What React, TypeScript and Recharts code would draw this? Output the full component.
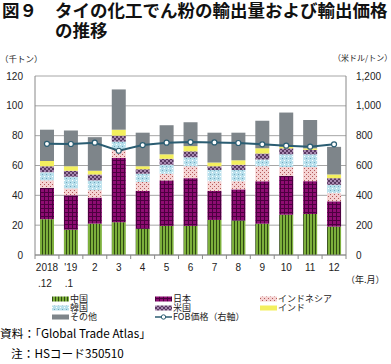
import { ComposedChart, Bar, Line, XAxis, YAxis, CartesianGrid } from 'recharts'

const months = ['2018\n.12', "'19\n.1", '2', '3', '4', '5', '6', '7', '8', '9', '10', '11', '12']
const china = [24, 17, 21, 22, 17.5, 19.5, 19.5, 23.5, 23, 21, 27, 27.5, 19]
const japan = [21, 23, 17.5, 43, 25.5, 30.5, 32, 19.5, 21, 28.5, 26, 22, 17]
const indonesia = [5, 4.5, 5, 6, 6, 4.5, 8, 6.5, 5.5, 10, 6, 9.5, 5.5]
const korea = [5.5, 8, 6.5, 5, 5.5, 6, 6, 7.5, 7.5, 4.5, 8.5, 8.5, 5.5]
const usa = [4, 4, 4, 4, 3, 4, 4, 2.5, 3.5, 4, 4, 3, 4.5]
const india = [3.5, 3, 2.5, 4, 2, 3, 3.5, 2.5, 3, 3.5, 1, 1, 2.5]
const other = [21, 24, 22.5, 27, 22.5, 19.5, 16, 20, 18.5, 18.5, 23, 19, 18.5]
const fob = [745, 744, 753, 699, 737, 753, 757, 755, 751, 742, 733, 726, 742]

const leftTicks = [0, 20, 40, 60, 80, 100, 120]
const rightTicks = [0, 200, 400, 600, 800, 1000, 1200]

const data = months.map((m, i) => ({
  m,
  china: china[i],
  japan: japan[i],
  indonesia: indonesia[i],
  korea: korea[i],
  usa: usa[i],
  india: india[i],
  other: other[i],
  fob: fob[i],
}))

const NUM_FONT = '"Liberation Sans", Arial, sans-serif'
const JP_FONT = '"Noto Sans CJK JP", "Noto Sans", sans-serif'

const PLOT_LEFT = 35
const PLOT_RIGHT = 346
const BAND = (PLOT_RIGHT - PLOT_LEFT) / months.length

const LINE_COLOR = '#2b5d72'

function Patterns() {
  return (
    <defs>
      <pattern id="p-china" width="3" height="4" patternUnits="userSpaceOnUse">
        <rect width="3" height="4" fill="#7db03c" />
        <rect x="0" width="1" height="4" fill="#2f4a12" />
      </pattern>
      <pattern id="p-japan" width="4" height="4" patternUnits="userSpaceOnUse">
        <rect width="4" height="4" fill="#8e0c72" />
        <rect x="0" y="0" width="4" height="1" fill="#4c0040" />
        <rect x="0" y="0" width="1" height="4" fill="#4c0040" />
      </pattern>
      <pattern id="p-indonesia" width="4" height="4" patternUnits="userSpaceOnUse">
        <rect width="4" height="4" fill="#f5d3d3" />
        <rect x="0" y="0" width="1" height="1" fill="#b35a5a" />
        <rect x="2" y="2" width="1" height="1" fill="#b35a5a" />
      </pattern>
      <pattern id="p-korea" width="4" height="4" patternUnits="userSpaceOnUse">
        <rect width="4" height="4" fill="#b9e0ec" />
        <rect x="0" y="0" width="1" height="1" fill="#ffffff" />
        <rect x="2" y="2" width="1" height="1" fill="#6fa6bd" />
      </pattern>
      <pattern id="p-usa" width="4" height="4" patternUnits="userSpaceOnUse">
        <rect width="4" height="4" fill="#a888b0" />
        <rect x="0" y="0" width="2" height="2" fill="#5a3a62" />
        <rect x="2" y="2" width="2" height="2" fill="#5a3a62" />
      </pattern>
    </defs>
  )
}

function MonthTick(props: any) {
  const { x, y, payload, index } = props
  const lines = String(payload.value).split('\n')
  const axisY = y - 8
  return (
    <g>
      <line x1={x - BAND / 2} x2={x - BAND / 2} y1={axisY} y2={axisY + 4} stroke="#888" />
      {index === months.length - 1 && (
        <line x1={x + BAND / 2} x2={x + BAND / 2} y1={axisY} y2={axisY + 4} stroke="#888" />
      )}
      {lines.map((t, i) => (
        <text
          key={i}
          x={lines.length > 1 && i === 1 ? x - 2 : x}
          y={axisY + 16 + i * 16}
          textAnchor="middle"
          fontSize={10}
          fontFamily={NUM_FONT}
          fill="#222"
        >
          {t}
        </text>
      ))}
    </g>
  )
}

const legendItems = [
  { name: '中国', fill: 'url(#p-china)', col: 0, row: 0 },
  { name: '日本', fill: 'url(#p-japan)', col: 1, row: 0 },
  { name: 'インドネシア', fill: 'url(#p-indonesia)', col: 2, row: 0 },
  { name: '韓国', fill: 'url(#p-korea)', col: 0, row: 1 },
  { name: '米国', fill: 'url(#p-usa)', col: 1, row: 1 },
  { name: 'インド', fill: '#f3ef5e', col: 2, row: 1 },
  { name: 'その他', fill: '#7e858a', col: 0, row: 2 },
  { name: 'FOB価格（右軸）', fill: 'line', col: 1, row: 2 },
]

const colX = [52, 155, 260]
const rowY = [299, 308, 317]

function LegendBlock() {
  return (
    <>
      {legendItems.map((it) => (
        <div
          key={it.name}
          style={{
            position: 'absolute',
            left: colX[it.col],
            top: rowY[it.row] - 5,
            height: 10,
            display: 'flex',
            alignItems: 'center',
            fontFamily: JP_FONT,
            fontSize: 9,
            lineHeight: '10px',
            color: '#222',
            whiteSpace: 'nowrap',
          }}
        >
          <svg width={17} height={10} style={{ marginRight: 1 }}>
            {it.fill === 'line' ? (
              <g>
                <line x1={0} x2={17} y1={5} y2={5} stroke={LINE_COLOR} strokeWidth={1.5} />
                <circle cx={8.5} cy={5} r={2.2} fill="#fff" stroke={LINE_COLOR} strokeWidth={1} />
              </g>
            ) : (
              <rect x={0} y={2.5} width={17} height={5} fill={it.fill} />
            )}
          </svg>
          {it.name}
        </div>
      ))}
    </>
  )
}

export default function App() {
  return (
    <div style={{ position: 'absolute', left: 0, top: 0, width: 391, height: 364, background: '#fff', fontFamily: JP_FONT }}>
      <div
        style={{
          position: 'absolute',
          left: 2,
          top: 0,
          fontSize: 17.5,
          fontWeight: 700,
          lineHeight: '20px',
          color: '#111',
          whiteSpace: 'nowrap',
        }}
      >
        図９
      </div>
      <div
        style={{
          position: 'absolute',
          left: 55,
          top: 0,
          fontSize: 17.5,
          fontWeight: 700,
          lineHeight: '20px',
          color: '#111',
          whiteSpace: 'nowrap',
        }}
      >
        タイの化工でん粉の輸出量および輸出価格
        <br />
        の推移
      </div>

      <div style={{ position: 'absolute', left: 0, top: 0 }}>
        <ComposedChart
          width={391}
          height={300}
          data={data}
          margin={{ top: 76, right: 0, bottom: 5, left: 0 }}
          barCategoryGap={0}
        >
          <Patterns />
          <CartesianGrid yAxisId="left" vertical={false} stroke="#a6a6a6" />
          <XAxis
            dataKey="m"
            interval={0}
            height={40}
            tickLine={false}
            axisLine={{ stroke: '#888' }}
            tick={<MonthTick />}
          />
          <YAxis
            yAxisId="left"
            width={35}
            domain={[0, 120]}
            ticks={leftTicks}
            tickLine={false}
            tickSize={6}
            tickMargin={6}
            axisLine={{ stroke: '#888' }}
            tick={{ fontSize: 10, fill: '#222', fontFamily: NUM_FONT }}
          />
          <YAxis
            yAxisId="right"
            orientation="right"
            width={45}
            domain={[0, 1200]}
            ticks={rightTicks}
            tickLine={false}
            tickSize={6}
            tickMargin={4}
            axisLine={{ stroke: '#888' }}
            tickFormatter={(v: number) => v.toLocaleString('en-US')}
            tick={{ fontSize: 10, fill: '#222', fontFamily: NUM_FONT, textAnchor: 'start' }}
          />
          <Bar yAxisId="left" dataKey="china" stackId="a" barSize={14} fill="url(#p-china)" isAnimationActive={false} />
          <Bar yAxisId="left" dataKey="japan" stackId="a" barSize={14} fill="url(#p-japan)" isAnimationActive={false} />
          <Bar yAxisId="left" dataKey="indonesia" stackId="a" barSize={14} fill="url(#p-indonesia)" isAnimationActive={false} />
          <Bar yAxisId="left" dataKey="korea" stackId="a" barSize={14} fill="url(#p-korea)" isAnimationActive={false} />
          <Bar yAxisId="left" dataKey="usa" stackId="a" barSize={14} fill="url(#p-usa)" isAnimationActive={false} />
          <Bar yAxisId="left" dataKey="india" stackId="a" barSize={14} fill="#f3ef5e" isAnimationActive={false} />
          <Bar yAxisId="left" dataKey="other" stackId="a" barSize={14} fill="#7e858a" isAnimationActive={false} />
          <Line
            yAxisId="right"
            dataKey="fob"
            type="linear"
            stroke={LINE_COLOR}
            strokeWidth={2}
            dot={{ r: 2.5, fill: '#fff', stroke: LINE_COLOR, strokeWidth: 1.2 }}
            isAnimationActive={false}
          />
        </ComposedChart>
      </div>

      <div style={{ position: 'absolute', left: 0, top: 53, fontSize: 8.5, lineHeight: '10px', color: '#222' }}>（千トン）</div>
      <div style={{ position: 'absolute', left: 333, top: 53, fontSize: 8, lineHeight: '10px', color: '#222' }}>（米ドル/トン）</div>
      <div style={{ position: 'absolute', left: 346, top: 275, fontSize: 9, lineHeight: '10px', color: '#222' }}>（年.月）</div>

      <LegendBlock />

      <div style={{ position: 'absolute', left: 0, top: 325, fontSize: 11.7, lineHeight: '15px', color: '#000', whiteSpace: 'nowrap' }}>
        資料：「Global Trade Atlas」
      </div>
      <div style={{ position: 'absolute', left: 11, top: 345, fontSize: 11.7, lineHeight: '15px', color: '#000', whiteSpace: 'nowrap' }}>
        注：HSコード350510
      </div>
    </div>
  )
}
